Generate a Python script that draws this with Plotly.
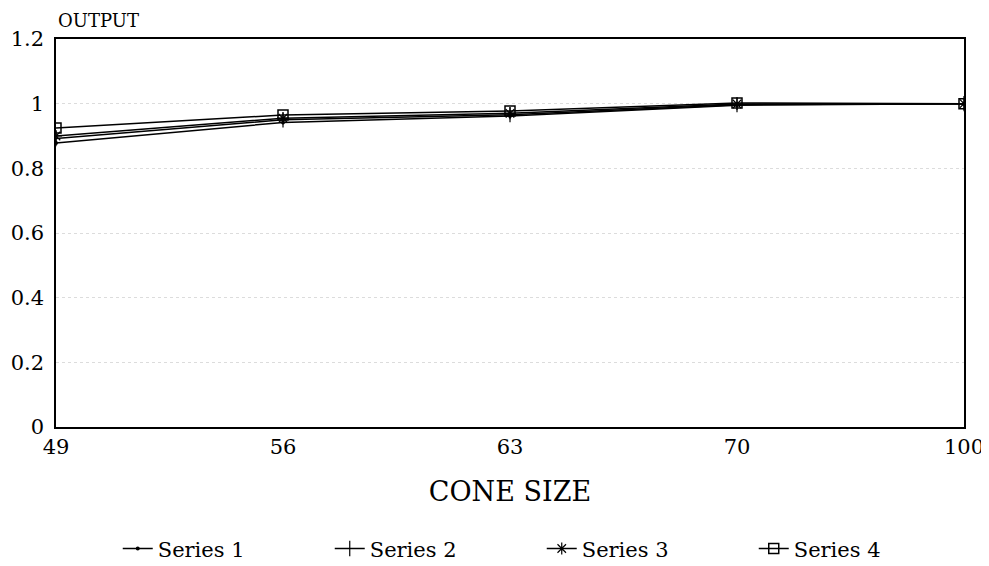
import plotly.graph_objects as go

categories = ["49", "56", "63", "70", "100"]
series1 = [0.878, 0.942, 0.962, 0.995, 1.0]
series2 = [0.892, 0.950, 0.966, 0.997, 1.0]
series3 = [0.900, 0.955, 0.970, 0.999, 1.0]
series4 = [0.925, 0.965, 0.977, 1.002, 1.0]
names = ["Series 1", "Series 2", "Series 3", "Series 4"]
y_ticks = [0, 0.2, 0.4, 0.6, 0.8, 1, 1.2]

xpos = list(range(len(categories)))
markers = [
    dict(symbol="circle", size=4, color="black"),
    dict(symbol="line-ns", size=11, line=dict(width=1.2, color="black")),
    dict(symbol="asterisk", size=10, line=dict(width=1.2, color="black")),
    dict(symbol="square-open", size=10, color="black", line=dict(width=1.5, color="black")),
]

fig = go.Figure()
for name, vals, mk in zip(names, [series1, series2, series3, series4], markers):
    fig.add_trace(go.Scatter(
        x=xpos, y=vals, name=name, mode="lines+markers",
        line=dict(color="black", width=1.5), marker=mk,
    ))

font_family = "DejaVu Serif, Liberation Serif, serif"
fig.update_layout(
    width=995, height=558,
    margin=dict(l=48, r=39, t=31, b=139, autoexpand=False),
    paper_bgcolor="white", plot_bgcolor="white",
    font=dict(family=font_family, color="black", size=18),
    showlegend=True,
    legend=dict(orientation="h", x=0.068, xanchor="left", y=-0.314, yanchor="middle",
                font=dict(size=21), entrywidth=167, entrywidthmode="pixels",
                tracegroupgap=0),
    xaxis=dict(
        range=[0, 4], tickmode="array", tickvals=xpos, ticktext=categories,
        showline=True, linecolor="black", linewidth=1.5, mirror=True,
        showgrid=False, zeroline=False, ticks="", tickfont=dict(size=21),
        automargin=False,
        title=dict(text="CONE SIZE", font=dict(size=27), standoff=24),
    ),
    yaxis=dict(
        range=[0, 1.2], tickmode="array", tickvals=y_ticks,
        ticktext=["0", "0.2", "0.4", "0.6", "0.8", "1", "1.2"],
        showline=True, linecolor="black", linewidth=1.5, mirror=True,
        showgrid=True, gridcolor="#dcdcdc", griddash="dot", gridwidth=1,
        zeroline=False, ticks="", tickfont=dict(size=21), automargin=False,
        ticklabelstandoff=6,
    ),
    annotations=[dict(text="OUTPUT", xref="paper", yref="paper", x=0.0, y=1.0,
                      xanchor="left", yanchor="middle", yshift=19, xshift=0,
                      showarrow=False, font=dict(size=18))],
)

fig.write_html("out.html")
